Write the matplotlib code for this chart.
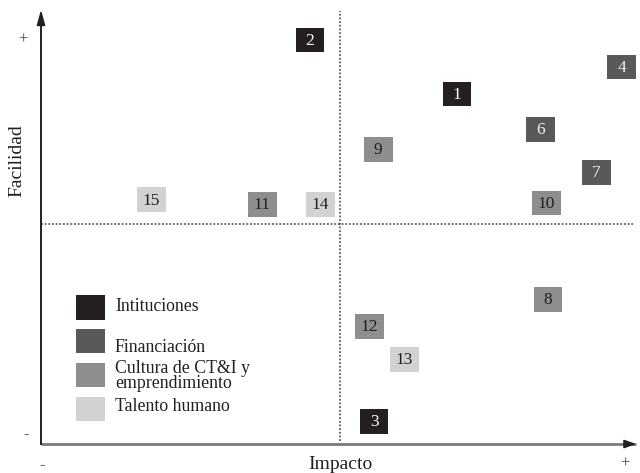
import matplotlib
matplotlib.use("Agg")
import matplotlib.pyplot as plt
from matplotlib.patches import Rectangle

# Data (Impacto, Facilidad on a 0-10 scale; quadrant split at 5)
labels   = ["1", "2", "3", "4", "6", "7", "8", "9", "10", "11", "12", "13", "14", "15"]
impacto  = [6.96, 4.50, 5.57, 9.71, 8.35, 9.29, 8.48, 5.64, 8.45, 3.70, 5.49, 6.08, 4.67, 1.85]
facilidad= [7.99, 9.24, 0.45, 8.62, 7.18, 6.19, 3.26, 6.72, 5.48, 5.45, 2.64, 1.88, 5.45, 5.56]
grupo    = [0, 0, 0, 1, 1, 1, 2, 2, 2, 2, 2, 3, 3, 3]

group_names = ["Intituciones", "Financiación", "Cultura de CT&I y\nemprendimiento", "Talento humano"]
group_colors = ["#231f20", "#58595b", "#8e8e91", "#d1d2d4"]
text_colors = ["#ffffff", "#f0f0f0", "#231f20", "#231f20"]

plt.rcParams['font.family'] = ['Liberation Serif', 'DejaVu Serif']

fig = plt.figure(figsize=(6.4, 4.73), dpi=100)
ax = fig.add_axes([41/640, 32/473, 598/640, 434/473])
ax.set_xlim(0, 10)
ax.set_ylim(0, 10)
ax.axis('off')

W, H = 0.477, 0.565

# dotted quadrant lines
ax.plot([5, 5], [0, 9.9], ls=(0, (1.2, 1.2)), color="#444444", lw=1.1, clip_on=False)
ax.plot([0, 9.9], [5, 5], ls=(0, (1.2, 1.2)), color="#444444", lw=1.1, clip_on=False)

# axes with arrows
ax.plot([0, 9.95], [-0.07, -0.07], color="#7a7a7a", lw=2.0, clip_on=False, solid_capstyle='butt')
ax.annotate("", xy=(10.0, -0.07), xytext=(9.7, -0.07),
            arrowprops=dict(arrowstyle="-|>,head_length=0.7,head_width=0.25", color="#231f20", lw=1.2),
            annotation_clip=False)
ax.plot([0, 0], [-0.07, 9.8], color="#231f20", lw=1.4, clip_on=False)
ax.annotate("", xy=(0, 10.0), xytext=(0, 9.5),
            arrowprops=dict(arrowstyle="-|>,head_length=0.9,head_width=0.25", color="#231f20", lw=1.2),
            annotation_clip=False)

# points
for lab, x, y, g in zip(labels, impacto, facilidad, grupo):
    ax.add_patch(Rectangle((x - W/2, y - H/2), W, H, facecolor=group_colors[g],
                           edgecolor='none', clip_on=False))
    ax.text(x, y - 0.02, lab, ha='center', va='center', fontsize=12.5,
            color=text_colors[g])

# legend
leg_x = 0.59
leg_y = [3.08, 2.30, 1.52, 0.74]
text_y = [3.10, 2.16, 1.50, 0.79]
for i, (name, c) in enumerate(zip(group_names, group_colors)):
    ax.add_patch(Rectangle((leg_x, leg_y[i] - H/2), W, H, facecolor=c, edgecolor='none'))
    ax.text(leg_x + W + 0.17, text_y[i], name, ha='left', va='center', fontsize=12.8,
            color="#231f20", linespacing=0.82)

# axis labels and signs
ax.text(5.0, -0.55, "Impacto", ha='center', va='center', fontsize=14, color="#231f20")
ax.text(-0.4, 6.45, "Facilidad", ha='center', va='center', fontsize=14, color="#231f20",
        rotation=90)
ax.text(-0.3, 9.24, "+", ha='center', va='center', fontsize=12, color="#444444")
ax.text(-0.24, 0.15, "-", ha='center', va='center', fontsize=12, color="#444444")
ax.text(0.02, -0.55, "-", ha='center', va='center', fontsize=12, color="#444444")
ax.text(9.77, -0.52, "+", ha='center', va='center', fontsize=12, color="#444444")

fig.savefig("out.png", dpi=100)
